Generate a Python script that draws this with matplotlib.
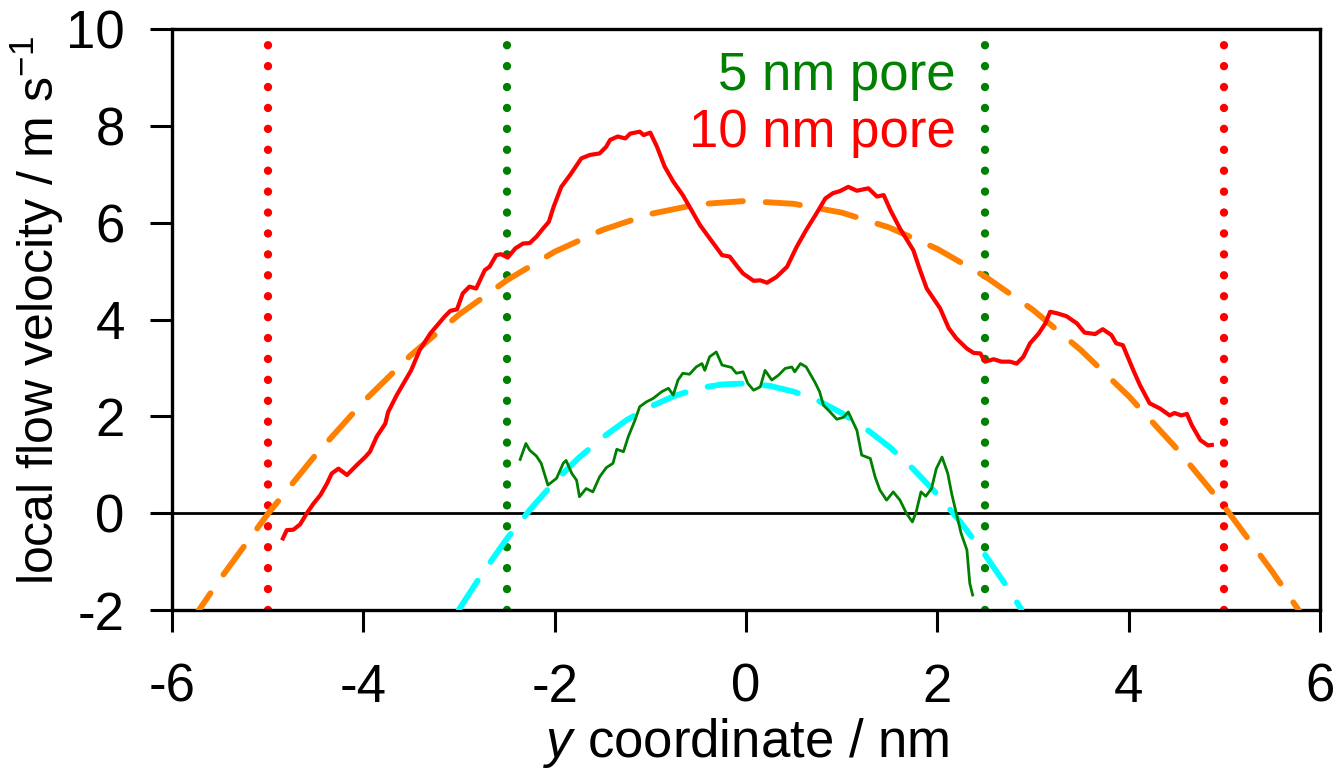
import matplotlib
matplotlib.use("Agg")
import matplotlib.pyplot as plt

plt.rcParams['font.family'] = ['Liberation Sans', 'DejaVu Sans']
plt.rcParams['mathtext.fontset'] = 'custom'
plt.rcParams['mathtext.rm'] = 'Liberation Sans'
plt.rcParams['mathtext.it'] = 'Liberation Sans:italic'
plt.rcParams['axes.unicode_minus'] = False

# 10 nm pore, local flow velocity
red_x = [-4.84, -4.80, -4.73, -4.66, -4.59, -4.52, -4.45, -4.38, -4.33, -4.26,
         -4.17, -4.07, -3.98, -3.93, -3.86, -3.77, -3.74, -3.65, -3.50, -3.41,
         -3.30, -3.15, -3.09, -3.02, -2.96, -2.89, -2.82, -2.73, -2.68, -2.61,
         -2.56, -2.49, -2.41, -2.33, -2.26, -2.19, -2.12, -2.06, -2.01, -1.93,
         -1.84, -1.72, -1.63, -1.53, -1.46, -1.42, -1.34, -1.26, -1.21, -1.11,
         -1.07, -1.00, -0.93, -0.85, -0.76, -0.66, -0.57, -0.48, -0.38, -0.25,
         -0.17, -0.10, -0.03, 0.08, 0.15, 0.22, 0.32, 0.43, 0.53, 0.63,
         0.74, 0.83, 0.91, 0.98, 1.07, 1.16, 1.23, 1.28, 1.37, 1.44,
         1.51, 1.61, 1.75, 1.82, 1.89, 2.03, 2.12, 2.20, 2.31, 2.38,
         2.45, 2.50, 2.59, 2.67, 2.76, 2.83, 2.90, 2.97, 3.06, 3.13,
         3.18, 3.25, 3.35, 3.46, 3.54, 3.65, 3.73, 3.82, 3.87, 3.94,
         4.05, 4.12, 4.22, 4.33, 4.43, 4.48, 4.55, 4.61, 4.66, 4.75,
         4.83, 4.87]
red_y = [-0.52, -0.35, -0.34, -0.23, 0.00, 0.20, 0.37, 0.61, 0.82, 0.92,
         0.79, 0.99, 1.16, 1.27, 1.58, 1.85, 2.09, 2.44, 2.95, 3.37,
         3.71, 4.06, 4.18, 4.21, 4.54, 4.68, 4.64, 5.02, 5.09, 5.33,
         5.35, 5.28, 5.47, 5.57, 5.58, 5.71, 5.88, 6.02, 6.33, 6.74,
         6.98, 7.33, 7.40, 7.43, 7.57, 7.71, 7.78, 7.74, 7.84, 7.88,
         7.81, 7.86, 7.57, 7.16, 6.85, 6.57, 6.26, 5.95, 5.68, 5.33,
         5.30, 5.12, 4.95, 4.80, 4.81, 4.76, 4.88, 5.09, 5.50, 5.85,
         6.20, 6.50, 6.61, 6.65, 6.74, 6.66, 6.69, 6.71, 6.54, 6.57,
         6.26, 5.88, 5.43, 5.02, 4.64, 4.23, 3.82, 3.61, 3.40, 3.31,
         3.30, 3.13, 3.18, 3.13, 3.13, 3.09, 3.23, 3.51, 3.71, 3.92,
         4.16, 4.13, 4.07, 3.92, 3.73, 3.70, 3.80, 3.68, 3.51, 3.47,
         2.95, 2.64, 2.27, 2.16, 2.02, 2.07, 2.02, 2.05, 1.82, 1.51,
         1.40, 1.41]

# 5 nm pore, local flow velocity
green_x = [-2.36, -2.30, -2.26, -2.19, -2.14, -2.07, -1.98, -1.91, -1.88, -1.82,
           -1.77, -1.74, -1.67, -1.60, -1.53, -1.46, -1.39, -1.35, -1.28, -1.23,
           -1.16, -1.11, -1.04, -0.97, -0.88, -0.81, -0.76, -0.71, -0.66, -0.59,
           -0.52, -0.46, -0.43, -0.38, -0.31, -0.25, -0.15, -0.10, -0.03, 0.02,
           0.08, 0.15, 0.20, 0.27, 0.34, 0.41, 0.48, 0.51, 0.57, 0.63,
           0.72, 0.77, 0.81, 0.88, 0.95, 1.02, 1.07, 1.16, 1.21, 1.30,
           1.35, 1.40, 1.47, 1.54, 1.61, 1.68, 1.74, 1.78, 1.83, 1.88,
           1.94, 1.99, 2.05, 2.11, 2.15, 2.20, 2.25, 2.31, 2.34, 2.37]
green_y = [1.11, 1.44, 1.30, 1.18, 1.03, 0.58, 0.72, 1.03, 1.09, 0.82,
           0.68, 0.34, 0.51, 0.44, 0.75, 0.94, 1.03, 1.32, 1.27, 1.58,
           1.92, 2.20, 2.30, 2.37, 2.51, 2.58, 2.44, 2.75, 2.89, 2.87,
           3.02, 3.09, 2.95, 3.23, 3.33, 3.06, 3.01, 2.89, 2.92, 2.68,
           2.54, 2.61, 2.95, 2.75, 2.85, 2.99, 3.02, 2.92, 3.09, 3.02,
           2.71, 2.51, 2.23, 2.09, 1.94, 1.98, 2.09, 1.71, 1.20, 1.13,
           0.75, 0.48, 0.27, 0.44, 0.27, -0.01, -0.18, 0.03, 0.44, 0.35,
           0.51, 0.92, 1.16, 0.82, 0.41, -0.01, -0.42, -0.76, -1.45, -1.69]

# parabolic profiles
fit10_x = [-5.80, -5.50, -5.00, -4.50, -4.00, -3.50, -3.00, -2.50, -2.00, -1.50,
           -1.00, -0.50, 0.00, 0.50, 1.00, 1.50, 2.00, 2.50, 3.00, 3.50,
           4.00, 4.50, 5.00, 5.50, 5.85]
fit10_y = [-2.24, -1.37, -0.02, 1.20, 2.30, 3.27, 4.10, 4.81, 5.40, 5.85,
           6.18, 6.38, 6.45, 6.39, 6.21, 5.90, 5.46, 4.89, 4.20, 3.37,
           2.42, 1.34, 0.14, -1.20, -2.21]
fit5_x = [-3.00, -2.75, -2.50, -2.25, -2.00, -1.75, -1.50, -1.25, -1.00, -0.75,
          -0.50, -0.25, 0.00, 0.25, 0.50, 0.75, 1.00, 1.25, 1.50, 1.75,
          2.00, 2.25, 2.50, 2.75, 2.88]
fit5_y = [-1.99, -1.23, -0.53, 0.09, 0.65, 1.14, 1.56, 1.92, 2.20, 2.42,
          2.58, 2.66, 2.68, 2.63, 2.51, 2.33, 2.07, 1.75, 1.37, 0.91,
          0.39, -0.20, -0.86, -1.58, -1.99]

walls_10 = [-5.0, 5.0]
walls_5 = [-2.5, 2.5]

xticks = [-6, -4, -2, 0, 2, 4, 6]
yticks = [-2, 0, 2, 4, 6, 8, 10]

fig = plt.figure(figsize=(13.35, 7.72), dpi=100)
ax = fig.add_axes([0.1288, 0.2098, 0.8599, 0.7526])

# pore walls, dotted, drawn bottom to top
for w in walls_10:
    ax.plot([w, w], [-2, 10], color='red', lw=6, linestyle=(0, (0.01, 2.5)),
            dash_capstyle='round', zorder=2)
for w in walls_5:
    ax.plot([w, w], [-2, 10], color='green', lw=6, linestyle=(0, (0.01, 2.5)),
            dash_capstyle='round', zorder=2)

ax.axhline(0, color='black', lw=2.0, zorder=1)

ax.plot(fit10_x, fit10_y, color='#ff8000', lw=4.2, linestyle=(0, (5.9, 3.9)),
        dash_capstyle='round', zorder=3)
ax.plot(fit5_x, fit5_y, color='cyan', lw=4.2, linestyle=(0, (5.9, 3.9)),
        dash_capstyle='round', zorder=3)

ax.plot(red_x, red_y, color='red', lw=3.0, zorder=4)
ax.plot(green_x, green_y, color='green', lw=2.0, zorder=4)

ax.text(2.19, 8.74, '5 nm pore', color='green', fontsize=38, ha='right', va='baseline')
ax.text(2.19, 7.56, '10 nm pore', color='red', fontsize=38, ha='right', va='baseline')

ax.set_xlim(-6, 6)
ax.set_ylim(-2, 10)
ax.set_xticks(xticks)
ax.set_yticks(yticks)
ax.tick_params(direction='out', length=16, width=2.2, labelsize=38)
ax.tick_params(axis='x', pad=22)
ax.tick_params(axis='y', pad=18)
for s in ax.spines.values():
    s.set_linewidth(2.4)

ax.set_xlabel('$\\it{y}$ coordinate / nm', fontsize=38, labelpad=2)
ax.set_ylabel('local flow velocity / m s$^{-1}$', fontsize=36)
ax.yaxis.set_label_coords(-0.092, 0.516)

fig.savefig('out.png', dpi=100)
